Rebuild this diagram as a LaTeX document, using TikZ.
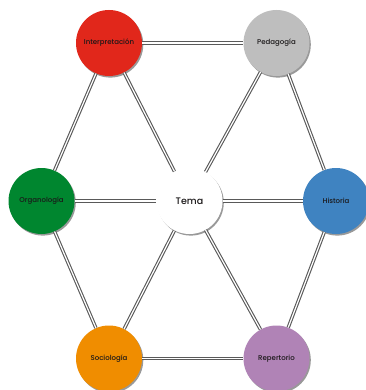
\documentclass[tikz,border=0pt]{standalone}
\usepackage{fontspec}
\setmainfont{Poppins}[BoldFont={Poppins Medium}]
\usetikzlibrary{shadows}
\definecolor{cred}{HTML}{E1271B}
\definecolor{cgray}{HTML}{BEBEBE}
\definecolor{cgreen}{HTML}{00862F}
\definecolor{cblue}{HTML}{3F83C1}
\definecolor{corange}{HTML}{F08D00}
\definecolor{cpurple}{HTML}{B083B6}
\definecolor{ctext}{HTML}{1A1718}
\tikzset{
  topic/.style={circle, minimum size=66pt, inner sep=0pt, text=ctext,
    font=\fontsize{7}{8}\selectfont\bfseries,
    drop shadow={shadow xshift=1.3pt, shadow yshift=-1.6pt, opacity=0.4, fill=black}},
  link/.style={draw=black!65, line width=1.1pt, double=white, double distance=1.2pt}
}
\begin{document}
\begin{tikzpicture}[x=1pt,y=-1pt]
\useasboundingbox[fill=white] (0,0) rectangle (365,390);
\node[topic, fill=cred]    (int) at (109,43)  {Interpretación};
\node[topic, fill=cgray]   (ped) at (276.5,43) {Pedagogía};
\node[topic, fill=cgreen]  (org) at (41.5,201) {Organología};
\node[topic, fill=white, font=\fontsize{9.5}{10}\selectfont\bfseries] (tem) at (189.5,201) {Tema};
\node[topic, fill=cblue]   (his) at (336,201) {Historia};
\node[topic, fill=corange] (soc) at (109,358.5) {Sociología};
\node[topic, fill=cpurple] (rep) at (276.5,358.5) {Repertorio};
\foreach \a/\b in {int/ped, int/org, int/tem, ped/tem, ped/his, org/tem, tem/his, org/soc, tem/soc, tem/rep, his/rep, soc/rep}
  \draw[link] (\a) -- (\b);
\end{tikzpicture}
\end{document}
